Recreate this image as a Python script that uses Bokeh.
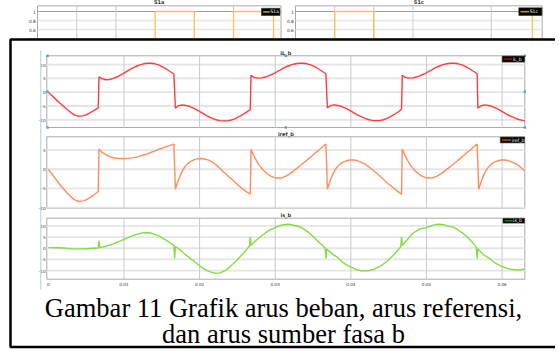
from bokeh.plotting import figure
from bokeh.models import Range1d
from bokeh.embed import file_html
from bokeh.resources import INLINE
from bokeh.core.properties import value

W, H = 559, 361

# ---------------- data ----------------
time_ticks = [0, 0.01, 0.02, 0.03, 0.04, 0.05, 0.06]
time_tick_labels = ["0", "0.01", "0.02", "0.03", "0.04", "0.05", "0.06"]

iL_ticks = [10, 5, 0, -5, -10]
iref_ticks = [5, 0, -5, -10]
is_ticks = [10, 5, 0, -5, -10]

# (time [s], current [A])
iL_b = [
    (0, 0), (0.0005, -1.3), (0.001, -2.6), (0.0015, -3.9), (0.002, -5.1), (0.0025, -6.3), (0.003, -7.4),
    (0.0035, -8.3), (0.004, -8.7), (0.0045, -8.6), (0.005, -8.2), (0.0055, -7.5), (0.006, -6.7), (0.0066, -5.7),
    (0.0067, 5.6), (0.0071, 4.9), (0.0076, 4.5), (0.0081, 4.6), (0.0086, 5.0), (0.0091, 5.6), (0.0096, 6.3),
    (0.0101, 7.1), (0.0106, 7.9), (0.0111, 8.7), (0.0116, 9.4), (0.0121, 9.9), (0.0126, 10.3), (0.0131, 10.5),
    (0.0136, 10.5), (0.0141, 10.3), (0.0146, 9.9), (0.0151, 9.2), (0.0156, 8.4), (0.0161, 7.5), (0.0166, 6.6),
    (0.0168, -5.8), (0.0172, -4.9), (0.0177, -4.6), (0.0182, -4.8), (0.0187, -5.2), (0.0192, -5.8), (0.0197, -6.5),
    (0.0202, -7.3), (0.0207, -8.1), (0.0212, -8.9), (0.0217, -9.5), (0.0222, -10.0), (0.0227, -10.3), (0.0232, -10.4),
    (0.0237, -10.4), (0.0242, -10.1), (0.0247, -9.6), (0.0252, -8.9), (0.0257, -8.1), (0.0262, -7.2), (0.0267, -6.3),
    (0.0268, 6.1), (0.0272, 5.4), (0.0277, 5.1), (0.0282, 5.2), (0.0287, 5.5), (0.0292, 6.0), (0.0297, 6.6),
    (0.0302, 7.4), (0.0307, 8.1), (0.0312, 8.9), (0.0317, 9.5), (0.0322, 10.0), (0.0327, 10.3), (0.0332, 10.5),
    (0.0337, 10.5), (0.0342, 10.3), (0.0347, 9.9), (0.0352, 9.3), (0.0357, 8.5), (0.0362, 7.6), (0.0367, 6.7),
    (0.0369, -5.7), (0.0373, -4.9), (0.0378, -4.6), (0.0383, -4.8), (0.0388, -5.2), (0.0393, -5.8), (0.0398, -6.5),
    (0.0403, -7.3), (0.0408, -8.1), (0.0413, -8.8), (0.0418, -9.4), (0.0423, -9.9), (0.0428, -10.2), (0.0433, -10.3),
    (0.0438, -10.3), (0.0443, -10.0), (0.0448, -9.5), (0.0453, -8.8), (0.0458, -8.0), (0.0463, -7.1), (0.0467, -6.2),
    (0.0468, 6.1), (0.0472, 5.4), (0.0477, 5.1), (0.0482, 5.2), (0.0487, 5.5), (0.0492, 6.0), (0.0497, 6.6),
    (0.0502, 7.4), (0.0507, 8.1), (0.0512, 8.9), (0.0517, 9.5), (0.0522, 10.0), (0.0527, 10.3), (0.0532, 10.5),
    (0.0537, 10.5), (0.0542, 10.3), (0.0547, 9.9), (0.0552, 9.3), (0.0557, 8.5), (0.0562, 7.6), (0.0567, 6.7),
    (0.0568, -5.8), (0.0572, -4.9), (0.0577, -4.6), (0.0582, -4.8), (0.0587, -5.2), (0.0592, -5.8), (0.0597, -6.5),
    (0.0602, -7.3), (0.0607, -8.1), (0.0612, -8.8), (0.0617, -9.4), (0.0622, -9.9), (0.0627, -10.2), (0.063, -10.3),
]

iref_b = [
    (0, 0), (0.0005, -1.3), (0.001, -2.6), (0.0015, -3.9), (0.002, -5.1), (0.0025, -6.2), (0.003, -7.2),
    (0.0035, -8.0), (0.004, -8.4), (0.0045, -8.3), (0.005, -8.0), (0.0055, -7.4), (0.006, -6.7), (0.0066, -5.8),
    (0.0067, 5.3), (0.0071, 4.4), (0.0076, 3.8), (0.0081, 3.3), (0.0086, 3.0), (0.0091, 2.85), (0.0096, 2.8),
    (0.0101, 2.8), (0.0106, 2.85), (0.0111, 2.95), (0.0116, 3.1), (0.0121, 3.4), (0.0126, 3.7), (0.0131, 4.0),
    (0.0136, 4.4), (0.0141, 4.8), (0.0146, 5.2), (0.0151, 5.5), (0.0156, 5.9), (0.0161, 6.2), (0.0166, 6.5),
    (0.0168, -5.2), (0.0171, -3.4), (0.0174, -1.8), (0.0177, -0.5), (0.018, 0.5), (0.0184, 1.4), (0.0188, 2.0),
    (0.0193, 2.5), (0.0198, 2.75), (0.0203, 2.8), (0.0208, 2.6), (0.0213, 2.3), (0.0218, 1.7), (0.0223, 1.0),
    (0.0228, 0.0), (0.0233, -0.9), (0.0238, -1.8), (0.0243, -2.7), (0.0248, -3.6), (0.0253, -4.5), (0.0258, -5.3),
    (0.0263, -6.0), (0.0267, -6.5),
    (0.0268, 5.2), (0.0271, 3.8), (0.0275, 2.3), (0.0279, 1.0), (0.0284, -0.2), (0.0289, -1.1), (0.0294, -1.8),
    (0.0299, -2.2), (0.0304, -2.3), (0.0309, -2.2), (0.0314, -1.8), (0.0319, -1.2), (0.0324, -0.5), (0.0329, 0.3),
    (0.0334, 1.1), (0.0339, 1.9), (0.0344, 2.7), (0.0349, 3.5), (0.0354, 4.4), (0.0359, 5.2), (0.0363, 5.9),
    (0.0367, 6.6),
    (0.0369, -5.2), (0.0372, -3.4), (0.0375, -1.8), (0.0378, -0.6), (0.0381, 0.4), (0.0385, 1.2), (0.0389, 1.8),
    (0.0394, 2.2), (0.0399, 2.4), (0.0404, 2.4), (0.0409, 2.2), (0.0414, 1.8), (0.0419, 1.3), (0.0424, 0.6),
    (0.0429, -0.2), (0.0434, -1.0), (0.0439, -1.9), (0.0444, -2.8), (0.0449, -3.7), (0.0454, -4.5), (0.0459, -5.3),
    (0.0463, -5.9), (0.0467, -6.5),
    (0.0468, 5.3), (0.0471, 3.8), (0.0475, 2.3), (0.0479, 1.0), (0.0484, -0.2), (0.0489, -1.1), (0.0494, -1.8),
    (0.0499, -2.2), (0.0504, -2.3), (0.0509, -2.2), (0.0514, -1.8), (0.0519, -1.2), (0.0524, -0.5), (0.0529, 0.3),
    (0.0534, 1.1), (0.0539, 1.9), (0.0544, 2.7), (0.0549, 3.5), (0.0554, 4.4), (0.0559, 5.2), (0.0563, 5.9),
    (0.0567, 6.6),
    (0.0569, -5.2), (0.0572, -3.4), (0.0575, -1.8), (0.0578, -0.6), (0.0581, 0.4), (0.0585, 1.2), (0.0589, 1.8),
    (0.0594, 2.2), (0.0599, 2.4), (0.0604, 2.4), (0.0609, 2.2), (0.0614, 1.8), (0.0619, 1.3), (0.0624, 0.6),
    (0.063, -0.4),
]

is_b = [
    (0, 0.3), (0.001, 0.2), (0.002, 0.1), (0.003, -0.3), (0.004, -0.3), (0.005, -0.2), (0.006, 0.0), (0.0066, 0.1),
    (0.0067, 3.4), (0.0068, 0.3),
    (0.0075, 0.8), (0.008, 1.3), (0.0085, 1.8), (0.009, 2.5), (0.0095, 3.2), (0.01, 4.0), (0.0105, 4.7),
    (0.011, 5.4), (0.0115, 6.0), (0.012, 6.5), (0.0125, 6.8), (0.013, 7.0), (0.0135, 6.8), (0.014, 6.3),
    (0.0146, 5.5), (0.015, 4.7), (0.0155, 3.7), (0.016, 2.6), (0.0166, 1.4),
    (0.0167, -4.5), (0.0168, 0.8),
    (0.0174, -0.6), (0.0178, -1.9), (0.0183, -3.3), (0.0188, -4.6), (0.0192, -5.6), (0.0196, -6.7), (0.0201, -8.0),
    (0.0205, -9.0), (0.0209, -9.8), (0.0213, -10.4), (0.0218, -10.9), (0.0222, -11.2), (0.0227, -11.0),
    (0.0231, -10.4), (0.0235, -9.7), (0.024, -8.3), (0.0244, -7.0), (0.0249, -5.5), (0.0253, -4.0), (0.0258, -2.2),
    (0.0262, -0.6), (0.0266, 1.0),
    (0.0267, 5.0), (0.0268, 1.3),
    (0.027, 2.0), (0.0275, 3.6), (0.028, 5.0), (0.0284, 6.0), (0.0289, 7.3), (0.0293, 8.2), (0.0298, 8.9),
    (0.0302, 9.6), (0.0307, 10.2), (0.0311, 10.5), (0.0316, 10.7), (0.032, 10.6), (0.0325, 10.2), (0.033, 9.8),
    (0.0335, 9.2), (0.034, 8.1), (0.0345, 6.8), (0.035, 5.2), (0.0355, 3.6), (0.036, 2.0), (0.0366, 0.1),
    (0.0367, -4.5), (0.0368, -0.3),
    (0.0372, -1.5), (0.0376, -2.7), (0.0381, -3.7), (0.0386, -5.2), (0.039, -6.5), (0.0395, -7.5), (0.0399, -8.2),
    (0.0404, -9.0), (0.0408, -9.6), (0.0413, -10.0), (0.0417, -10.1), (0.0422, -10.1), (0.0426, -9.8),
    (0.043, -9.4), (0.0434, -8.9), (0.0439, -8.0), (0.0443, -7.0), (0.0448, -5.8), (0.0452, -4.5), (0.0457, -2.9),
    (0.0461, -1.3), (0.0466, 0.6),
    (0.0467, 5.0), (0.0468, 1.2),
    (0.047, 2.0), (0.0474, 3.6), (0.0478, 5.2), (0.0482, 6.7), (0.0487, 7.8), (0.0491, 8.5), (0.0496, 8.9),
    (0.05, 9.2), (0.0505, 9.8), (0.0509, 10.3), (0.0513, 10.6), (0.0517, 10.7), (0.0522, 10.5), (0.0526, 10.1),
    (0.0531, 9.7), (0.0535, 9.4), (0.054, 8.6), (0.0544, 7.6), (0.0549, 6.5), (0.0553, 5.2), (0.0558, 3.6),
    (0.0562, 2.2), (0.0566, 0.3),
    (0.0567, -4.5), (0.0568, -0.2),
    (0.0572, -1.8), (0.0576, -3.0), (0.0583, -4.5), (0.0587, -5.6), (0.0591, -6.6), (0.0596, -7.5), (0.06, -8.2),
    (0.0605, -8.8), (0.0609, -9.2), (0.0614, -9.5), (0.0618, -9.7), (0.0622, -9.7), (0.0626, -9.5), (0.063, -9.3),
]

s1_ticks = [1, 0.8, 0.6, 0.4]
s1_tick_labels = ["1", "0.8", "0.6", "0.4"]
s1a_grid = [1, 2, 5]
s1c_grid = [1, 2, 3, 5]
s1a = [(0, 0), (3, 0), (3, 1), (4, 1), (4, 0), (5, 0), (5, 1), (6.02, 1), (6.02, 0), (6.21, 0)]
s1c = [(0, 0), (1, 0), (1, 1), (2, 1), (2, 0), (6.05, 0), (6.05, 1), (6.3, 1)]

caption_lines = ["Gambar 11 Grafik arus beban, arus referensi,", "dan arus sumber fasa b"]

# ---------------- layout (pixel positions of each axes box) ----------------
TICK_FONT = value("DejaVu Sans")
GRID_H = "#e4e4e4"
GRID_V = "#c9c9c9"
FRAME = "#a9a9a9"

panels = [
    dict(name="iL", title="iL_b", data=iL_b, ticks=iL_ticks, xlim=(-0.0002, 0.063), ylim=(-12.8, 13.2),
         box=(50.3, 528.3, 59.3, 131.0), color="#ff3b3b", lcolor="#a80000", legend=(505.7, 528.0, 59.6, 65.6)),
    dict(name="iref", title="iref_b", data=iref_b, ticks=iref_ticks, xlim=(-0.0002, 0.063), ylim=(-10.15, 8.45),
         box=(50.3, 528.3, 140.3, 211.7), color="#ff8d5c", lcolor="#b04a16", legend=(503.8, 528.0, 140.6, 146.4)),
    dict(name="is", title="is_b", data=is_b, ticks=is_ticks, xlim=(-0.0002, 0.063), ylim=(-13.8, 13.4),
         box=(50.3, 528.3, 221.7, 282.7), color="#80dc40", lcolor="#2f7d00", legend=(506.5, 528.0, 221.9, 226.6)),
]

tops = [
    dict(name="s1a", title="S1a", data=s1a, grid=s1a_grid, xlim=(0, 6.21), ylim=(0, 1.127),
         box=(41.0, 284.5, 9.3, 60.0), legend=(265.0, 283.4, 11.8, 19.0), label="S1a"),
    dict(name="s1c", title="S1c", data=s1c, grid=s1c_grid, xlim=(0, 6.3), ylim=(0, 1.127),
         box=(299.0, 545.7, 9.3, 60.0), legend=(522.3, 545.4, 11.3, 19.0), label="S1c"),
]

xr, yr = {}, {}


def make_ranges(spec):
    L, R, T, B = spec["box"]
    x0, x1 = spec["xlim"]
    y0, y1 = spec["ylim"]
    kx = (R - L) / (x1 - x0)
    xs = x0 - L / kx
    xr[spec["name"]] = Range1d(xs, xs + W / kx)
    ky = (B - T) / (y1 - y0)
    ye = y1 + T / ky
    yr[spec["name"]] = Range1d(ye - H / ky, ye)


for s in tops + panels:
    make_ranges(s)

p = figure(width=W, height=H, x_range=Range1d(0, W), y_range=Range1d(H, 0),
           x_axis_type=None, y_axis_type=None, toolbar_location=None, output_backend="svg",
           min_border=0, outline_line_color=None, background_fill_color="white",
           border_fill_color="white", margin=(-4, -4, -4, -4))
p.extra_x_ranges = xr
p.extra_y_ranges = yr


def legend_box(lb, lcolor, label):
    l, r, t, b = lb
    p.quad(left=[l], right=[r], top=[t], bottom=[b], fill_color="black", line_color="#303030", line_width=0.6)
    ym = (t + b) / 2
    p.segment(x0=[l + 1.6], y0=[ym], x1=[l + 0.45 * (r - l)], y1=[ym], line_color=lcolor, line_width=1.6)
    p.text(x=[l + 0.47 * (r - l)], y=[ym], text=[label], text_font=TICK_FONT, text_font_size="4.6px",
           text_color="white", text_align="left", text_baseline="middle")


# ---------------- top strip (partly hidden scopes) ----------------
for s in tops:
    L, R, T, B = s["box"]
    n = s["name"]
    kw = dict(x_range_name=n, y_range_name=n)
    p.quad(left=[L], right=[R], top=[T], bottom=[B], fill_color="white", line_color=FRAME, line_width=1)
    x0, x1 = s["xlim"]
    y0, y1 = s["ylim"]
    light = [v for v in s1_ticks if v != 1]
    p.segment(x0=[x0] * len(light), y0=light, x1=[x1] * len(light), y1=light,
              line_color=GRID_H, line_width=1.4, **kw)
    p.segment(x0=[x0], y0=[1], x1=[x1], y1=[1], line_color="#9c9c9c", line_width=1.1, **kw)
    g = s["grid"]
    p.segment(x0=g, y0=[y0] * len(g), x1=g, y1=[y1] * len(g), line_color=GRID_V, line_width=1, **kw)
    p.line(x=[a for a, _ in s["data"]], y=[b for _, b in s["data"]], line_color="#f5c25c", line_width=1.3, **kw)
    p.text(x=[x0] * len(s1_ticks), y=s1_ticks, text=s1_tick_labels, x_offset=-1.6, text_font=TICK_FONT,
           text_font_size="4.4px", text_color="#333333", text_align="right", text_baseline="middle", **kw)
    p.text(x=[(L + R) / 2], y=[T - 3.6], text=[s["title"]], text_font=TICK_FONT, text_font_size="5px",
           text_font_style="bold", text_color="#333333", text_align="center", text_baseline="middle")
    legend_box(s["legend"], "#c39422", s["label"])

# ---------------- main framed figure ----------------
p.quad(left=[14.0], right=[640.0], top=[43.0], bottom=[350.5], fill_color="white",
       line_color="black", line_width=2.5)

for s in panels:
    L, R, T, B = s["box"]
    n = s["name"]
    kw = dict(x_range_name=n, y_range_name=n)
    x0, x1 = s["xlim"]
    y0, y1 = s["ylim"]
    p.quad(left=[L], right=[R], top=[T], bottom=[B], fill_color="white", line_color=FRAME, line_width=1)
    yt = s["ticks"]
    p.segment(x0=[x0] * len(yt), y0=yt, x1=[x1] * len(yt), y1=yt, line_color=GRID_H, line_width=1.8, **kw)
    vt = time_ticks[1:]
    p.segment(x0=vt, y0=[y0] * len(vt), x1=vt, y1=[y1] * len(vt), line_color=GRID_V, line_width=1, **kw)
    p.line(x=[a for a, _ in s["data"]], y=[b for _, b in s["data"]], line_color=s["color"],
           line_width=1.4, **kw)
    p.text(x=[x0] * len(yt), y=yt, text=[str(v) for v in yt], x_offset=-1.2, text_font=TICK_FONT,
           text_font_size="4.2px", text_color="#333333", text_align="right", text_baseline="middle", **kw)
    p.text(x=[(L + R) / 2], y=[T - 3.1], text=[s["title"]], text_font=TICK_FONT, text_font_size="5px",
           text_font_style="bold", text_color="#333333", text_align="center", text_baseline="middle")

# selection handles around the first axes and the text-cursor line
L, R, T, B = panels[0]["box"]
Mx, My = (L + R) / 2, (T + B) / 2
hx = [L + 0.7, Mx, R, L + 0.7, R, L + 0.7, Mx, R]
hy = [T, T, T, My, My, B, B, B]
p.rect(x=hx, y=hy, width=2.4, height=2.4, width_units="screen", height_units="screen",
       fill_color="#5b9bd5", line_color=None)
p.segment(x0=[44.3], y0=[54.0], x1=[44.3], y1=[293.0], line_color="#a9cdef", line_width=1)

for s in panels:
    legend_box(s["legend"], s["lcolor"], s["title"])

# time axis labels under the last axes
last = panels[-1]
p.text(x=time_ticks, y=[last["ylim"][0]] * len(time_ticks), text=time_tick_labels, y_offset=3.0,
       text_font=TICK_FONT, text_font_size="4.2px", text_color="#333333", text_align="center",
       text_baseline="top", x_range_name=last["name"], y_range_name=last["name"])

# caption
p.text(x=[287.0, 287.0], y=[311.0, 337.0], text=caption_lines, text_font=value("Liberation Serif"),
       text_font_size="26.5px", text_color="black", text_align="center", text_baseline="alphabetic")

open("out.html", "w").write(file_html(p, INLINE))
